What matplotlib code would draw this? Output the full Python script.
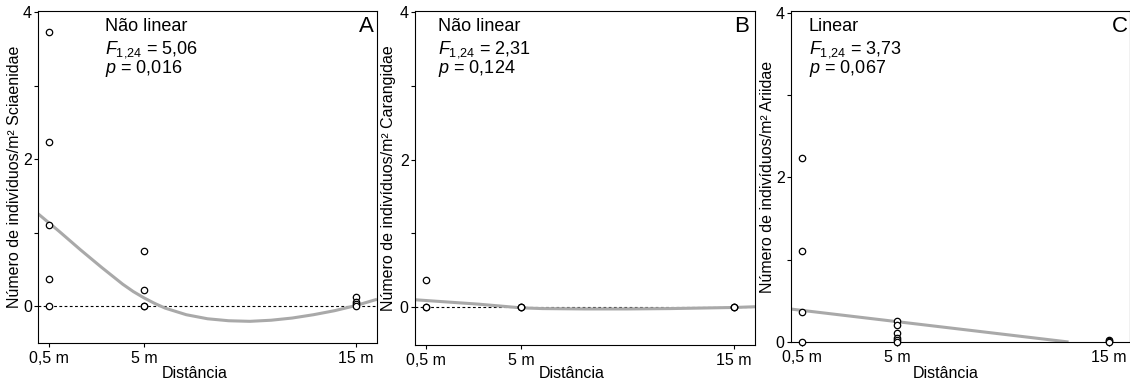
import matplotlib
matplotlib.use("Agg")
import matplotlib.pyplot as plt

plt.rcParams['font.family'] = ['Liberation Sans', 'DejaVu Sans']
plt.rcParams['mathtext.fontset'] = 'custom'
plt.rcParams['mathtext.rm'] = 'Liberation Sans'
plt.rcParams['mathtext.it'] = 'Liberation Sans:italic'

# ---------------- data ----------------
x_ticks = [0.5, 5, 15]
x_ticklabels = ["0,5 m", "5 m", "15 m"]

# Panel A - Sciaenidae
A_x = [0.5, 0.5, 0.5, 0.5, 0.5, 5, 5, 5, 5, 15, 15, 15, 15]
A_y = [3.73, 2.24, 1.11, 0.37, 0.0, 0.75, 0.22, 0.0, 0.0, 0.12, 0.06, 0.03, 0.0]
A_fit_x = [0, 1, 2, 3, 4, 4.5, 5, 5.5, 6, 7, 8, 9, 10, 11, 12, 13, 14, 15, 16]
A_fit_y = [1.26, 1.02, 0.77, 0.53, 0.30, 0.20, 0.115, 0.04, -0.025, -0.115, -0.17,
           -0.197, -0.205, -0.19, -0.16, -0.115, -0.06, 0.01, 0.095]

# Panel B - Carangidae
B_x = [0.5, 0.5, 0.5, 5, 5, 5, 15, 15, 15]
B_y = [0.37, 0.0, 0.0, 0.0, 0.0, 0.0, 0.0, 0.0, 0.0]
B_fit_x = [0, 1, 2, 3, 4, 5, 6, 8, 10, 12, 14, 15, 16]
B_fit_y = [0.095, 0.075, 0.055, 0.035, 0.01, -0.015, -0.025, -0.03, -0.03,
           -0.025, -0.015, -0.01, 0.0]

# Panel C - Ariidae
C_x = [0.5, 0.5, 0.5, 0.5, 5, 5, 5, 5, 5, 5, 15, 15, 15]
C_y = [2.23, 1.11, 0.36, 0.0, 0.26, 0.21, 0.11, 0.05, 0.02, 0.0, 0.03, 0.015, 0.0]
C_fit_x = [0, 13.1]
C_fit_y = [0.40, 0.0]

ylabels = ["Número de indivíduos/m² Sciaenidae",
           "Número de indivíduos/m² Carangidae",
           "Número de indivíduos/m² Ariidae"]
model_names = ["Não linear", "Não linear", "Linear"]
F_values = ["5,06", "2,31", "3,73"]
p_values = ["0,016", "0,124", "0,067"]
letters = ["A", "B", "C"]

# ---------------- layout (pixels) ----------------
W, H = 1130, 385
fig = plt.figure(figsize=(W / 100, H / 100), dpi=100)

def px_axes(l, t, r, b):
    return fig.add_axes([l / W, (H - b) / H, (r - l) / W, (b - t) / H])

axA = px_axes(38, 11, 377, 343)
axB = px_axes(415, 11, 755, 345)
axC = px_axes(791, 11, 1130, 342)

panels = [
    (axA, A_x, A_y, A_fit_x, A_fit_y, (-0.5, 4.02), True, 0.198, 0.991, 0.463),
    (axB, B_x, B_y, B_fit_x, B_fit_y, (-0.52, 4.02), True, 0.067, 0.982, 0.462),
    (axC, C_x, C_y, C_fit_x, C_fit_y, (0.0, 4.02), False, 0.053, 0.994, 0.457),
]

ylabel_px = [15, 388, 768]

for i, (ax, xs, ys, fx, fy, ylim, zero_line, tx, lx, xlx) in enumerate(panels):
    ax.set_xlim(0, 16)
    ax.set_ylim(*ylim)
    if zero_line:
        ax.plot([0, 16], [0, 0], color='black', lw=0.8, linestyle=(0, (2.5, 2.2)), zorder=1)
    ax.plot(fx, fy, color='#a9a9a9', lw=2.2, solid_capstyle='butt',
            solid_joinstyle='round', zorder=2)
    ax.plot(xs, ys, linestyle='none', marker='o', ms=4.6, mfc='white', mec='black',
            mew=0.9, zorder=3, clip_on=False)

    ax.set_xticks(x_ticks)
    ax.set_xticklabels(x_ticklabels)
    ax.set_yticks([0, 1, 2, 3, 4])
    ax.set_yticklabels(['0', '', '2', '', '4'])
    ax.tick_params(axis='x', direction='out', length=3, width=0.8, pad=3, labelsize=11.5)
    ax.tick_params(axis='y', direction='out', length=3, width=0.8, pad=1.5, labelsize=11.5)
    for sp in ax.spines.values():
        sp.set_linewidth(0.8)
        sp.set_color('black')

    # axis labels
    ax.set_ylabel(ylabels[i], fontsize=11.5)
    l = ax.get_position().x0 * W
    wpx = ax.get_position().width * W
    ax.yaxis.set_label_coords((ylabel_px[i] - l) / wpx, 0.5)
    ax.yaxis.label.set_verticalalignment('center')
    ax.set_xlabel("Distância", fontsize=11.5)
    hpx = ax.get_position().height * H
    bottom_px = H - ax.get_position().y0 * H
    ax.xaxis.set_label_coords(xlx, -(378 - bottom_px) / hpx)
    ax.xaxis.label.set_verticalalignment('baseline')

    # annotations
    top_px = H - ax.get_position().y1 * H
    def yfrac(bp):
        return 1 - (bp - top_px) / hpx
    ax.text(tx, yfrac(31), model_names[i], transform=ax.transAxes, fontsize=13,
            ha='left', va='baseline')
    ax.text(tx, yfrac(53), r'$F_{1{,}24}$' + ' = ' + F_values[i], transform=ax.transAxes,
            fontsize=13, ha='left', va='baseline')
    ax.text(tx, yfrac(73), r'$p$' + ' = ' + p_values[i], transform=ax.transAxes,
            fontsize=13, ha='left', va='baseline')
    ax.text(lx, yfrac(32), letters[i], transform=ax.transAxes, fontsize=16,
            ha='right', va='baseline')

fig.savefig("out.png", dpi=100)
